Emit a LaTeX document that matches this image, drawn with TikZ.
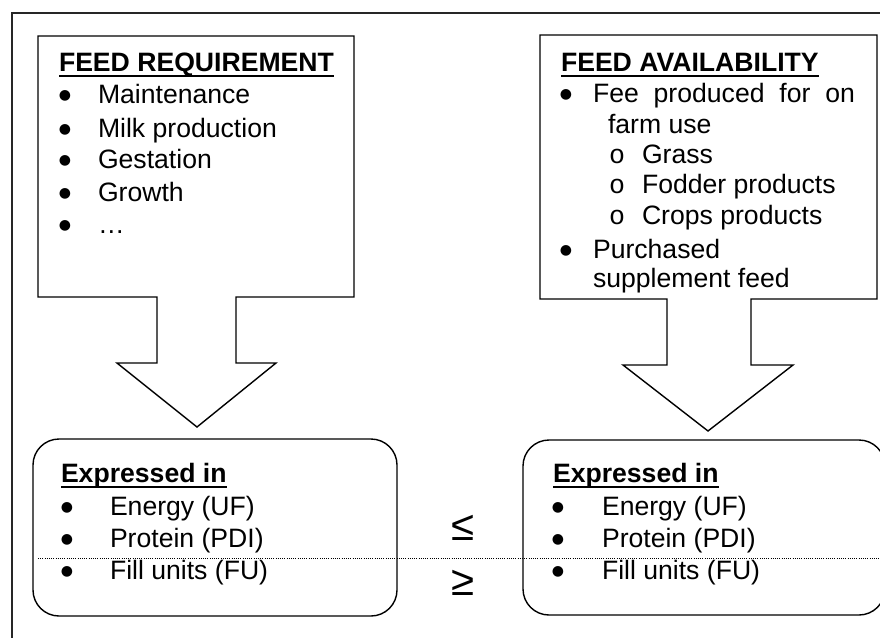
\documentclass[tikz,border=0pt]{standalone}
\usepackage{fontspec}
\setmainfont{Liberation Sans}
\newfontfamily\monofnt{Liberation Mono}
\newfontfamily\symfnt{DejaVu Sans}
\usetikzlibrary{calc}
\tikzset{
  txt/.style={anchor=base west, inner sep=0pt, outer sep=0pt, font=\fontsize{26.6}{32}\selectfont},
  hdr/.style={txt, font=\fontsize{26.6}{32}\selectfont\bfseries},
  bul/.style={anchor=center, inner sep=0pt, yshift=6.8pt, font=\fontsize{14}{14}\selectfont\symfnt},
  sub/.style={anchor=base, inner sep=0pt, font=\fontsize{26.6}{32}\selectfont\monofnt},
  outline/.style={draw=black, line width=1.4pt, line join=miter},
  rbox/.style={draw=black, line width=1.4pt, rounded corners=26pt, inner sep=0pt},
  uline/.style={line width=1.8pt},
  rel/.style={anchor=center, inner sep=0pt, font=\fontsize{42}{42}\selectfont}
}
\begin{document}
\begin{tikzpicture}[x=1pt,y=-1pt]
\useasboundingbox (0,0) rectangle (880,637);
\fill[white] (0,0) rectangle (880,637);
% outer frame
\draw[line width=1.6pt, draw=black!85] (12,13) rectangle (895,660);

% left callout
\draw[outline] (38,36) -- (354,36) -- (354,297) -- (236,297) -- (236,363) -- (276,363)
  -- (197,427) -- (117,363) -- (157,363) -- (157,297) -- (38,297) -- cycle;
% right callout
\draw[outline] (540,35) -- (877,35) -- (877,299) -- (751,299) -- (751,365) -- (793,365)
  -- (708,431) -- (623,365) -- (667,365) -- (667,299) -- (540,299) -- cycle;

% rounded boxes
\node[rbox, minimum width=364pt, minimum height=177pt] (exprL) at (215,527.5) {};
\node[rbox, minimum width=362pt, minimum height=175pt] (exprR) at (704,527.5) {};

% dotted line
\coordinate (dotA) at (38,558);
\coordinate (dotB) at (880,558);
\draw[line width=0.8pt, dash pattern=on 1pt off 1.2pt] (dotA) -- (dotB);

% left box text
\node[hdr] (reqH) at (59,71) {FEED REQUIREMENT};
\draw[uline] ([yshift=-5pt]reqH.base west) -- ([yshift=-5pt]reqH.base east);
\node[bul] (rb1) at (65,103) {●}; \node[txt] (r1) at (98,103) {Maintenance};
\node[bul] (rb2) at (65,137) {●}; \node[txt] (r2) at (98,137) {Milk production};
\node[bul] (rb3) at (65,168) {●}; \node[txt] (r3) at (98,168) {Gestation};
\node[bul] (rb4) at (65,201) {●}; \node[txt] (r4) at (98,201) {Growth};
\node[bul] (rb5) at (65,233) {●}; \node[txt] (r5) at (98,233) {…};

% right box text
\node[hdr] (avH) at (561,71) {FEED AVAILABILITY};
\draw[uline] ([yshift=-5pt]avH.base west) -- ([yshift=-5pt]avH.base east);
\node[bul] (ab1) at (566,102) {●}; \node[txt] (a1) at (593,102) {\makebox[262pt][s]{Fee produced for on}};
\node[txt] (a1b) at (608,133) {farm use};
\node[sub] (sb1) at (617,163) {o}; \node[txt] (s1) at (642,163) {Grass};
\node[sub] (sb2) at (617,193) {o}; \node[txt] (s2) at (642,193) {Fodder products};
\node[sub] (sb3) at (617,224) {o}; \node[txt] (s3) at (642,224) {Crops products};
\node[bul] (ab2) at (566,258) {●}; \node[txt] (a2) at (593,258) {Purchased};
\node[txt] (a2b) at (593,287) {supplement feed};

% bottom left text
\node[hdr] (exLH) at (61,482) {Expressed in};
\draw[uline] ([yshift=-5pt]exLH.base west) -- ([yshift=-5pt]exLH.base east);
\node[bul] (lb1) at (67,515) {●}; \node[txt] (l1) at (110,515) {Energy (UF)};
\node[bul] (lb2) at (67,547) {●}; \node[txt] (l2) at (110,547) {Protein (PDI)};
\node[bul] (lb3) at (67,579) {●}; \node[txt] (l3) at (110,579) {Fill units (FU)};

% bottom right text
\node[hdr] (exRH) at (553,482) {Expressed in};
\draw[uline] ([yshift=-5pt]exRH.base west) -- ([yshift=-5pt]exRH.base east);
\node[bul] (mb1) at (558,515) {●}; \node[txt] (m1) at (602,515) {Energy (UF)};
\node[bul] (mb2) at (558,547) {●}; \node[txt] (m2) at (602,547) {Protein (PDI)};
\node[bul] (mb3) at (558,579) {●}; \node[txt] (m3) at (602,579) {Fill units (FU)};

% relations
\node[rel] (le) at (463,528) {≤};
\node[rel] (ge) at (463,583) {≥};
\end{tikzpicture}
\end{document}
